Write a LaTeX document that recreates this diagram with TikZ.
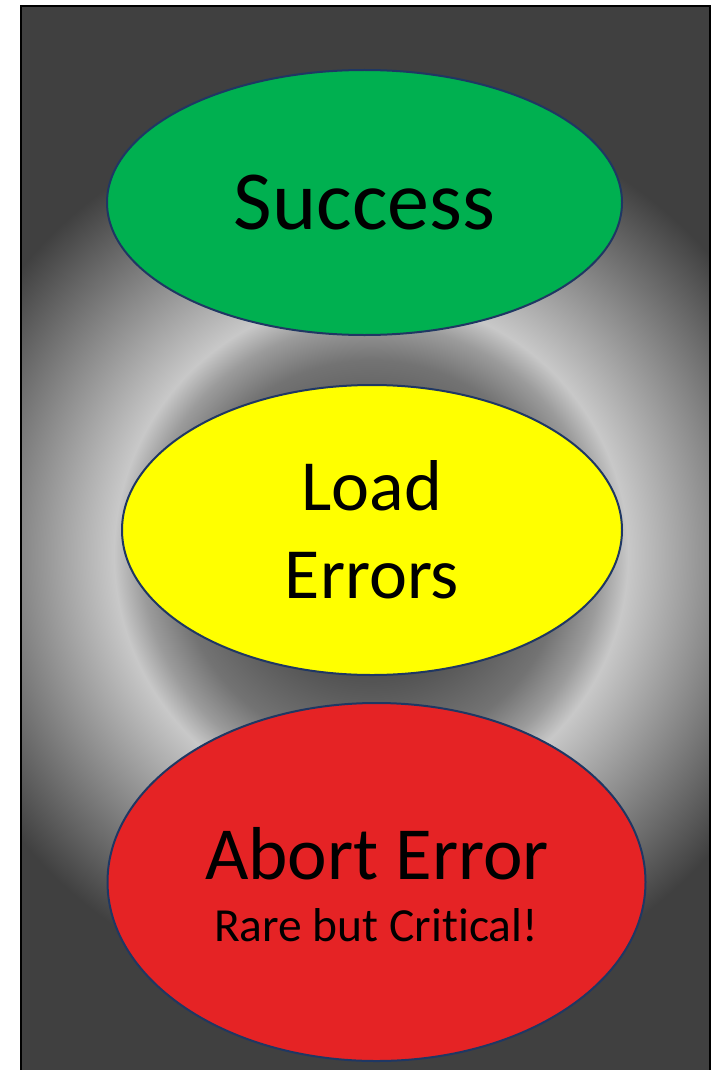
\documentclass[tikz,border=0pt]{standalone}
\usepackage{fontspec}
\setmainfont{Carlito}[Ligatures=NoCommon]
\usetikzlibrary{shapes.geometric}

\definecolor{panelgray}{RGB}{64,64,64}
\definecolor{rimnavy}{RGB}{31,55,99}
\definecolor{okgreen}{RGB}{0,176,80}
\definecolor{warnyellow}{RGB}{255,255,0}
\definecolor{failred}{RGB}{229,35,37}
\definecolor{gA}{RGB}{64,64,64}
\definecolor{gB}{RGB}{72,72,72}
\definecolor{gC}{RGB}{88,88,88}
\definecolor{gD}{RGB}{115,115,115}
\definecolor{gE}{RGB}{155,155,155}
\definecolor{gF}{RGB}{200,200,200}
\definecolor{gG}{RGB}{170,170,170}
\definecolor{gH}{RGB}{138,138,138}
\definecolor{gI}{RGB}{80,80,80}

% glowing ring behind the three ellipses (25bp = circle rim)
\pgfdeclareradialshading{ringglow}{\pgfpoint{0bp}{0bp}}{%
  color(0bp)=(gA); color(5.43bp)=(gB); color(7.39bp)=(gC);
  color(10.54bp)=(gD); color(12.5bp)=(gE); color(13.97bp)=(gF);
  color(16.3bp)=(gG); color(18.8bp)=(gH); color(23.32bp)=(gI);
  color(24.57bp)=(gA); color(25bp)=(gA); color(50bp)=(gA)}

\tikzset{
  lamp/.style={ellipse, draw=rimnavy, line width=2pt, inner sep=0pt},
  bigtext/.style={font=\fontsize{84}{100}\selectfont},
  midtext/.style={font=\fontsize{72}{88}\selectfont, align=center},
}

\begin{document}
\begin{tikzpicture}[x=1pt, y=-1pt]
  \useasboundingbox (0,0) rectangle (712,1070);
  \clip (0,0) rectangle (712,1070);
  \fill[white] (0,0) rectangle (712,1070);

  % dark panel with radial glow
  \fill[panelgray] (21,6) rectangle (710,1080);
  \begin{scope}
    \clip (21,6) rectangle (710,1080);
    \shade[shading=ringglow] (371,554) circle (460);
  \end{scope}
  \draw[black, line width=2.5pt] (21,1080) -- (21,6) -- (710,6) -- (710,1080);

  % status ellipses
  \node[lamp, fill=okgreen, minimum width=515pt, minimum height=265pt,
        bigtext] (success) at (364.5,202.5) {Success};
  \node[lamp, fill=warnyellow, minimum width=500pt, minimum height=290pt,
        midtext] (load) at (372,530) {Load\\Errors};
  \node[lamp, fill=failred, minimum width=538pt, minimum height=358pt]
        (abort) at (376.5,882) {};

  \node[anchor=base, font=\fontsize{75}{90}\selectfont] (aborttitle)
        at (377,879) {Abort Error};
  \node[anchor=base, font=\fontsize{47.5}{56}\selectfont] (abortnote)
        at (376,941) {Rare but Critical!};
\end{tikzpicture}
\end{document}
